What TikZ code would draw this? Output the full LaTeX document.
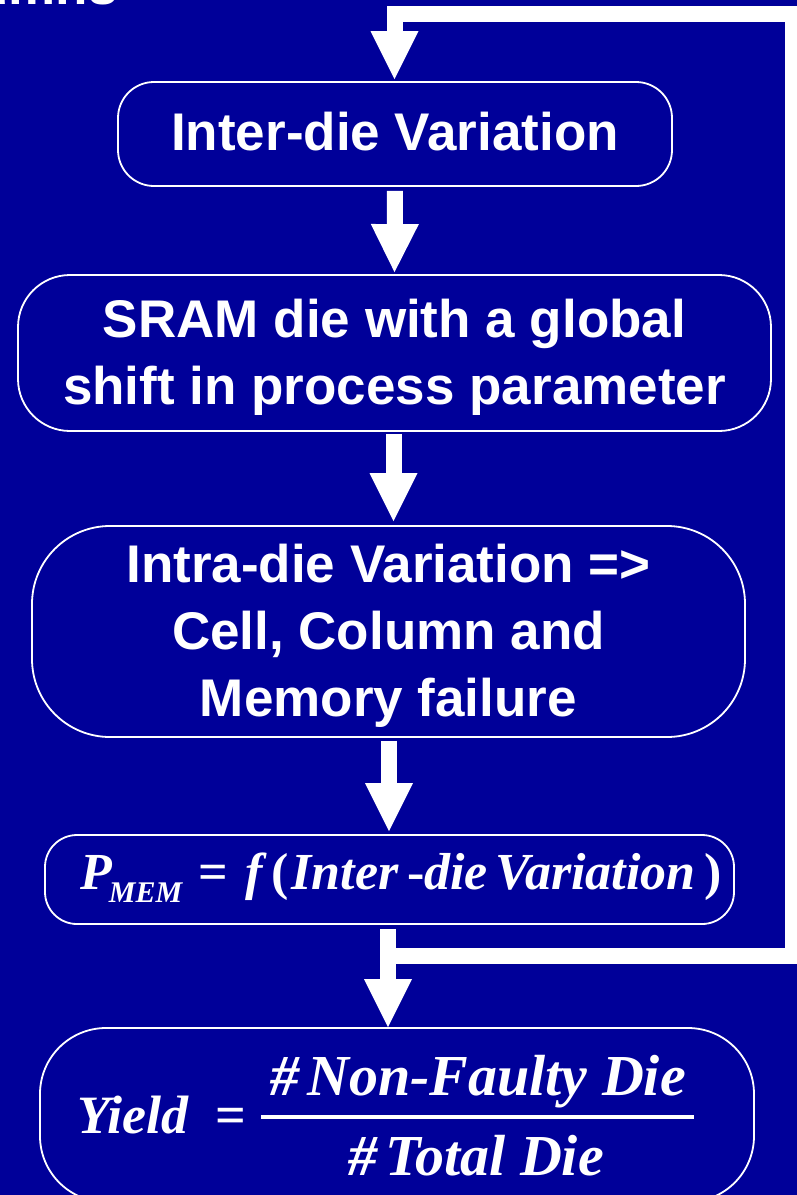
\documentclass[tikz,border=0pt]{standalone}
\usepackage{fontspec}
\setmainfont{Liberation Sans}
\newfontfamily\frmfont{Liberation Serif}
\usetikzlibrary{arrows.meta}
\definecolor{bgblue}{RGB}{0,0,153}
\newcommand\boxfont{\fontsize{53}{67}\selectfont\bfseries}
\newcommand\eqfont{\frmfont\fontsize{54}{54}\selectfont\bfseries\itshape}
\newcommand\pmemfont{\frmfont\fontsize{52}{52}\selectfont\bfseries\itshape}
\newcommand\fracfont{\frmfont\fontsize{58}{58}\selectfont\bfseries\itshape}
\tikzset{
  flowbox/.style={draw=white, line width=1.8pt, text=white, font=\boxfont,
    align=center, inner sep=0pt},
  formula/.style={text=white, font=\eqfont, inner sep=0pt},
  blockarrow/.style={draw=white, line width=16pt, line join=miter,
    -{Triangle[width=48pt,length=48pt,line width=0pt]}},
}
\begin{document}
\begin{tikzpicture}[x=1pt,y=-1pt]
\useasboundingbox (0,0) rectangle (797,1195);
\fill[bgblue] (0,0) rectangle (797,1195);
\clip (0,0) rectangle (797,1195);

% heading that runs in from above
\node[text=white, font=\boxfont, inner sep=0pt, anchor=base east] (head) at (118,4) {umns};

% process boxes
\node[flowbox, rounded corners=36pt, minimum width=554pt, minimum height=104pt,
  text height=38pt, text depth=6pt] (b1) at (395,134) {Inter-die Variation};
\node[flowbox, rounded corners=52pt, minimum width=753pt, minimum height=156pt]
  (b2) at (394.5,353) {\rule{0pt}{46pt}SRAM die with a global\\shift in process parameter};
\node[flowbox, rounded corners=78pt, minimum width=713pt, minimum height=211pt]
  (b3) at (388.5,631.5) {\rule{0pt}{46pt}Intra-die Variation =>\\Cell, Column and\\Memory failure};
\node[flowbox, rounded corners=32pt, minimum width=689pt, minimum height=89pt]
  (b4) at (389.5,879.5) {};
\node[flowbox, rounded corners=66pt, minimum width=714pt, minimum height=174pt]
  (b5) at (397,1115) {};

% memory failure probability
\node[formula, font=\pmemfont, anchor=base west] (pmem) at (80,889)
  {P\hspace{-3pt}\raisebox{-13pt}{\fontsize{30}{30}\selectfont MEM}\hspace{16pt}{\upshape =}\hspace{18pt}f\hspace{8pt}{\upshape (}\hspace{3pt}Inter{\upshape\,-}die\hspace{8pt}Variation{\upshape\,)}};

% yield formula
\node[formula, anchor=base west] (yield) at (77,1133) {Yield};
\node[formula, anchor=base, font=\eqfont\upshape] (eq) at (231,1133) {=};
\node[formula, anchor=base, font=\fracfont] (num) at (478,1095) {\#\hspace{8pt}Non-Faulty Die};
\node[formula, anchor=base, font=\fracfont] (den) at (476,1175) {\#\hspace{8pt}Total Die};
\draw[white, line width=3.5pt] (261,1117) -- (694,1117);

% flow arrows
\draw[blockarrow, shorten <=4pt, shorten >=2pt] (b1.south) -- (b2.north);
\draw[blockarrow, shorten <=2pt, shorten >=4pt] (b2.south -| 393.5,0) -- (b3.north -| 393.5,0);
\draw[blockarrow, shorten <=3pt, shorten >=3pt] (b3.south -| 389,0) -- (b4.north -| 389,0);
\draw[blockarrow, shorten <=4pt, shorten >=0pt] (b4.south -| 388,0) -- (b5.north -| 388,0);

% feedback loop back to the top
\coordinate (loopstart) at (388,955.5);
\coordinate (loopright) at (793,955.5);
\coordinate (looptopright) at (793,14);
\coordinate (looptopleft) at (394.5,14);
\draw[blockarrow, shorten >=2pt] (loopstart) -- (loopright) -- (looptopright) -- (looptopleft) -- (looptopleft |- b1.north);
\end{tikzpicture}
\end{document}
